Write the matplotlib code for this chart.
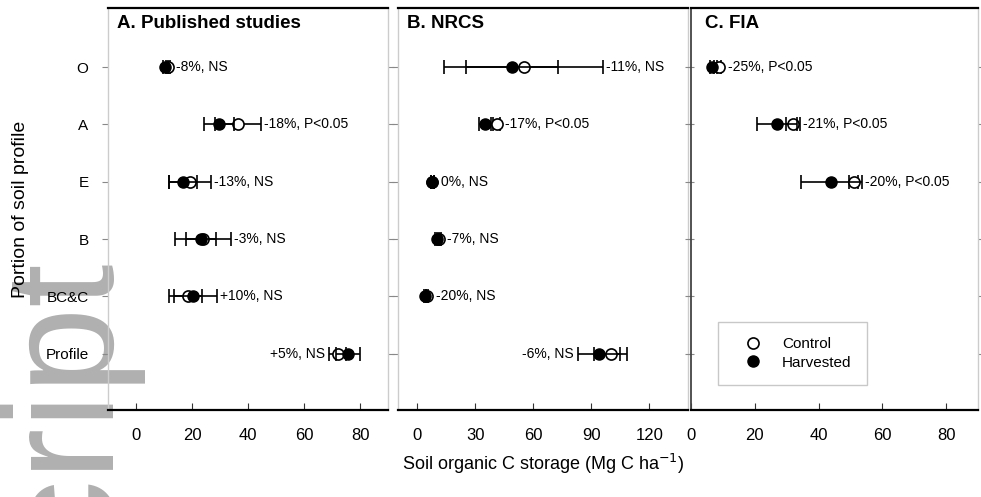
import matplotlib
matplotlib.use("Agg")
import matplotlib.pyplot as plt
from matplotlib.lines import Line2D
import numpy as np

plt.rcParams['font.family'] = ['Liberation Sans', 'DejaVu Sans']

horizons = ["O", "A", "E", "B", "BC&C", "Profile"]

# A. Published studies
pub_ctrl = [11.4, 36.4, 19.3, 24.0, 18.5, 72.1]
pub_ctrl_err = [0.8, 8.2, 7.5, 10.0, 5.0, 3.0]
pub_harv = [10.5, 29.6, 16.8, 23.2, 20.4, 75.7]
pub_harv_err = [0.8, 5.3, 5.0, 5.3, 8.5, 4.3]
pub_labels = ["-8%, NS", "-18%, P<0.05", "-13%, NS", "-3%, NS", "+10%, NS", "+5%, NS"]

# B. NRCS
nrcs_ctrl = [55.0, 41.0, 7.8, 11.0, 5.0, 100.0]
nrcs_ctrl_err = [41.0, 2.0, 0.8, 1.0, 0.6, 8.6]
nrcs_harv = [49.0, 35.0, 7.8, 10.3, 4.1, 94.0]
nrcs_harv_err = [24.0, 3.0, 0.8, 1.0, 0.6, 11.0]
nrcs_labels = ["-11%, NS", "-17%, P<0.05", "0%, NS", "-7%, NS", "-20%, NS", "-6%, NS"]

# C. FIA
fia_ctrl = [8.8, 32.0, 51.0, np.nan, np.nan, np.nan]
fia_ctrl_err = [0.5, 2.2, 1.5, np.nan, np.nan, np.nan]
fia_harv = [6.6, 27.0, 44.0, np.nan, np.nan, np.nan]
fia_harv_err = [0.5, 6.3, 9.5, np.nan, np.nan, np.nan]
fia_labels = ["-25%, P<0.05", "-21%, P<0.05", "-20%, P<0.05", "", "", ""]

panel_titles = ["A. Published studies", "B. NRCS", "C. FIA"]
x_ticks = [[0, 20, 40, 60, 80], [0, 30, 60, 90, 120], [0, 20, 40, 60, 80]]
x_limits = [(-10, 90), (-10, 140), (0, 90)]

W, H = 981, 497
fig = plt.figure(figsize=(W / 100, H / 100), dpi=100)

# watermark
fig.text(110 / W, 1 - 258 / H, "script", rotation=90, rotation_mode='anchor',
         ha='right', va='baseline', fontsize=112, color='#b0b0b0', zorder=-1)

bottom = 1 - 410 / H
height = 402 / H
boxes = [(108, 280), (398, 290), (691, 287)]
axes = [fig.add_axes([l / W, bottom, w / W, height]) for l, w in boxes]

data = [
    (pub_ctrl, pub_ctrl_err, pub_harv, pub_harv_err, pub_labels),
    (nrcs_ctrl, nrcs_ctrl_err, nrcs_harv, nrcs_harv_err, nrcs_labels),
    (fia_ctrl, fia_ctrl_err, fia_harv, fia_harv_err, fia_labels),
]
left_label_rows = {"Profile"}
ypos = np.arange(len(horizons))
msize = 8
rpx = msize * 100 / 72 / 2

for i, (ax, (c, ce, h, he, labs)) in enumerate(zip(axes, data)):
    ax.set_facecolor('none')
    ax.set_xlim(*x_limits[i])
    ax.set_ylim(5.98, -1.03)
    ax.errorbar(c, ypos, xerr=ce, fmt='o', ms=msize, mfc='white', mec='black',
                mew=1.2, ecolor='black', elinewidth=1.2, capsize=5, capthick=1.2,
                zorder=3)
    ax.errorbar(h, ypos, xerr=he, fmt='o', ms=msize, mfc='black', mec='black',
                ecolor='black', elinewidth=1.2, capsize=5, capthick=1.2, zorder=4)
    to_px = lambda v: ax.transData.transform((v, 0))[0]
    to_dat = lambda p: ax.transData.inverted().transform((p, 0))[0]
    for j, lab in enumerate(labs):
        if not lab or np.isnan(h[j]):
            continue
        if horizons[j] in left_label_rows:
            lo = min(to_px(h[j] - he[j]), to_px(c[j] - ce[j]),
                     to_px(h[j]) - rpx, to_px(c[j]) - rpx)
            ax.text(to_dat(lo - 4), ypos[j], lab, ha='right', va='center', fontsize=10)
        else:
            hi = max(to_px(h[j] + he[j]), to_px(c[j] + ce[j]),
                     to_px(h[j]) + rpx, to_px(c[j]) + rpx)
            ax.text(to_dat(hi + 3), ypos[j], lab, ha='left', va='center', fontsize=10)

    ax.set_xticks(x_ticks[i])
    ax.tick_params(axis='x', direction='in', length=5, pad=13, labelsize=12,
                   color='#333333')
    ax.set_yticks(ypos)
    ax.tick_params(axis='y', direction='out', length=4, left=True, right=True,
                   color='#888888', pad=10, labelsize=11)
    if i == 0:
        ax.set_yticklabels(horizons)
        ax.set_ylabel("Portion of soil profile", fontsize=14, labelpad=12)
    else:
        ax.set_yticklabels([])
    for s in ['top', 'bottom']:
        ax.spines[s].set_linewidth(1.6)
        ax.spines[s].set_color('black')
    for s in ['left', 'right']:
        ax.spines[s].set_color('#cccccc')
        ax.spines[s].set_linewidth(1.0)
    if i == 2:
        ax.spines['left'].set_color('#444444')
        ax.spines['left'].set_linewidth(1.3)
    ax.text(0.032 if i < 2 else 0.049, 0.982, panel_titles[i], transform=ax.transAxes,
            fontsize=13.5, fontweight='bold', va='top', ha='left')

handles = [
    Line2D([], [], marker='o', ls='none', ms=msize, mfc='white', mec='black', mew=1.2),
    Line2D([], [], marker='o', ls='none', ms=msize, mfc='black', mec='black'),
]
leg = axes[2].legend(handles, ["Control", "Harvested"], loc='lower left',
                     bbox_to_anchor=(0.094, 0.062), borderaxespad=0, fontsize=11,
                     frameon=True, fancybox=False, edgecolor='#bbbbbb', borderpad=1.0,
                     labelspacing=0.3, handletextpad=0.6, handlelength=2.6)

fig.text((108 + 978) / 2 / W, 1 - 464 / H, "Soil organic C storage (Mg C ha$^{-1}$)",
         ha='center', va='center', fontsize=13)

fig.savefig("out.png", dpi=100)
